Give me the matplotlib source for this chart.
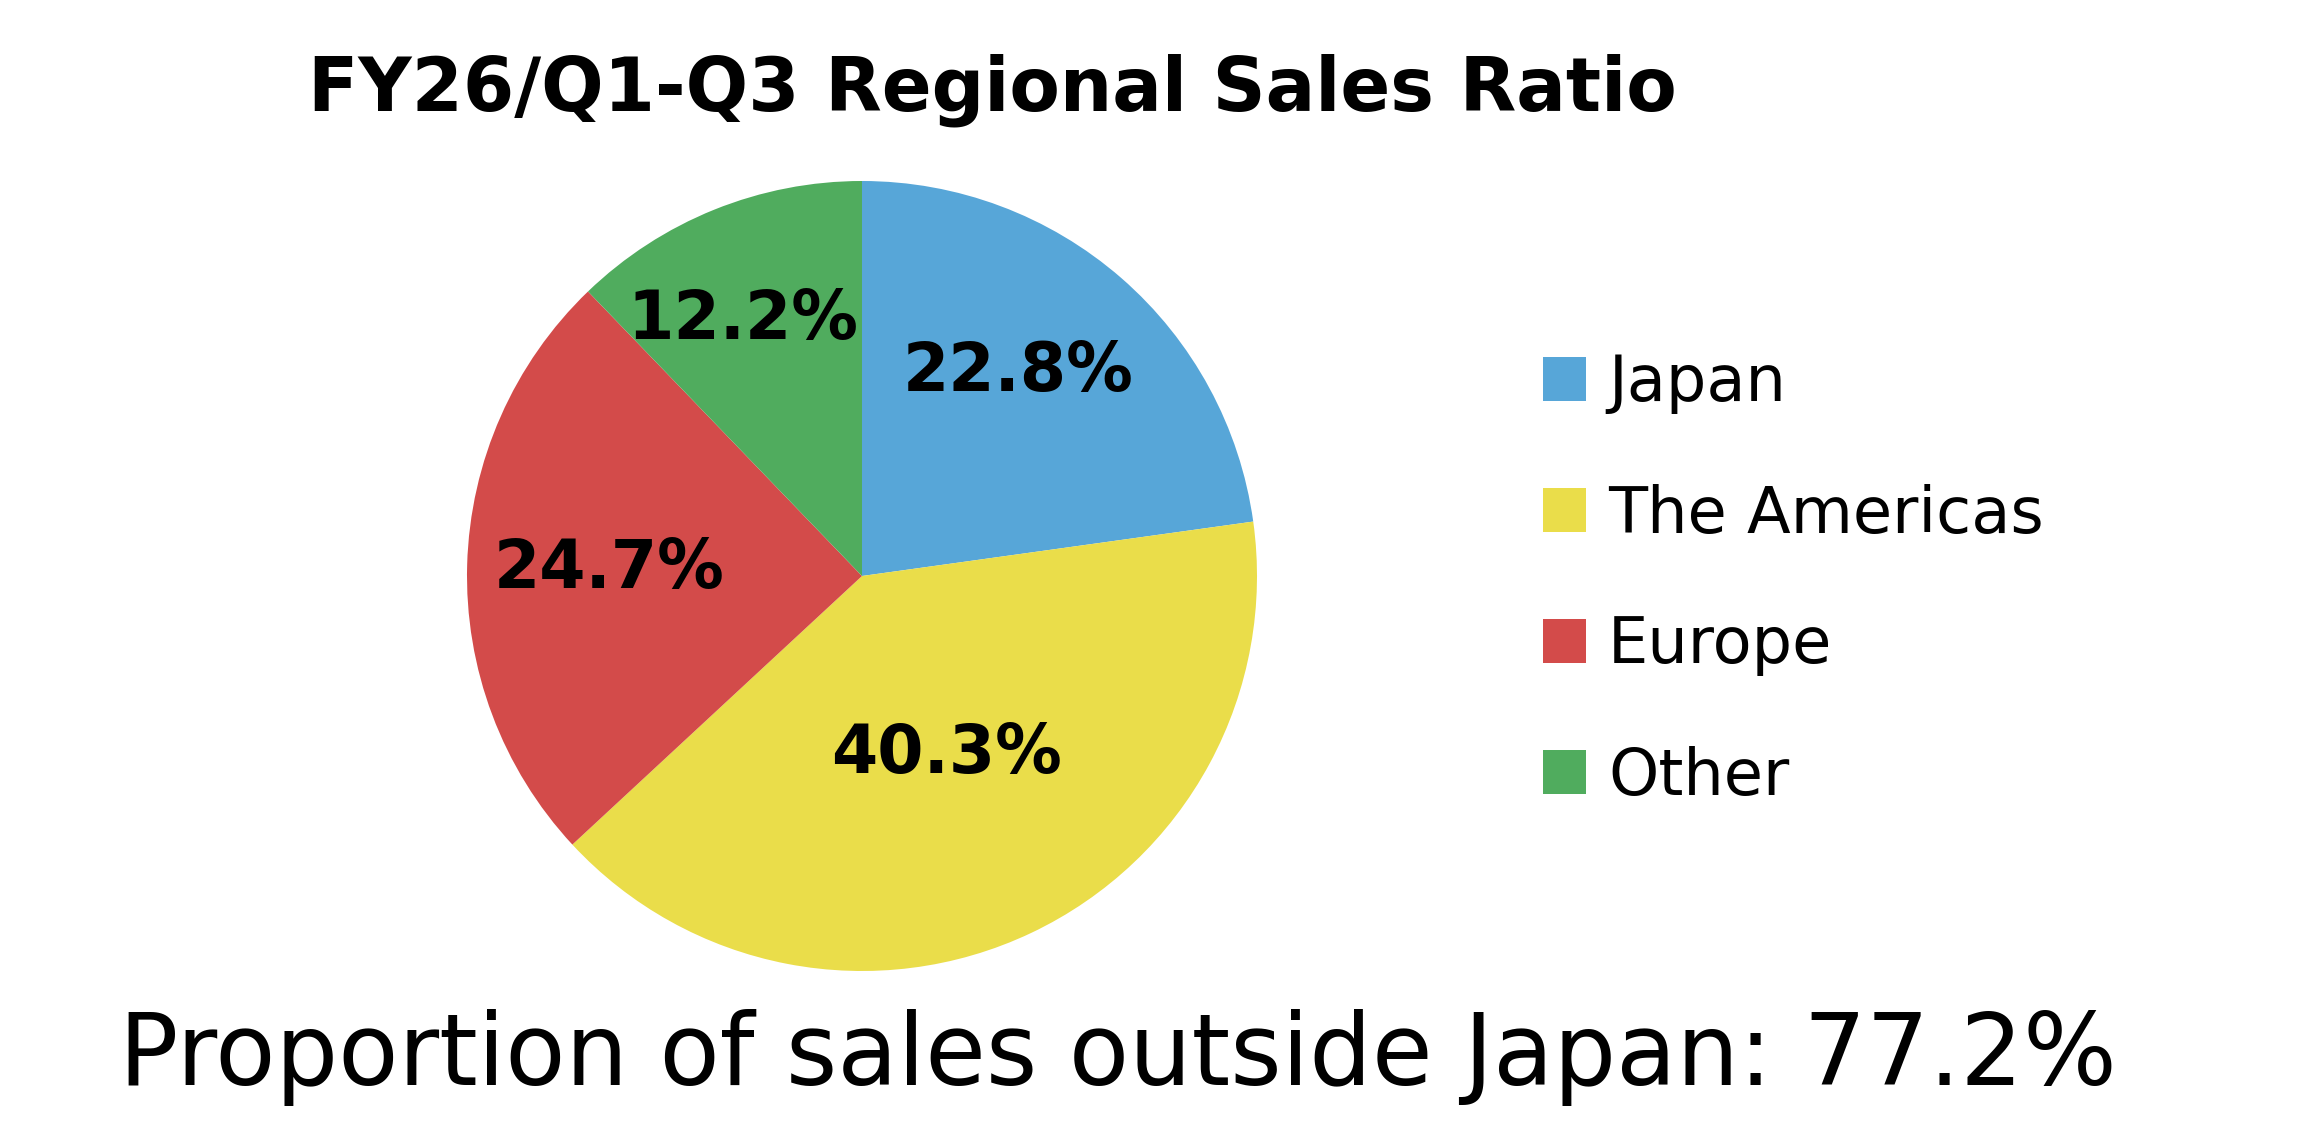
import numpy as np
import matplotlib
matplotlib.use("Agg")
import matplotlib.pyplot as plt
from matplotlib.patches import Patch

categories = ["Japan", "The Americas", "Europe", "Other"]
shares = [22.8, 40.3, 24.7, 12.2]
pct_labels = ["22.8%", "40.3%", "24.7%", "12.2%"]
colors = ["#57A6D8", "#EADD4A", "#D34B4A", "#50AC5E"]
label_radius = [0.65, 0.50, 0.64, 0.716]
label_angle_shift = [3.5, 0.0, 0.0, 3.0]
title = "FY26/Q1-Q3 Regional Sales Ratio"
footer = "Proportion of sales outside Japan: 77.2%"

plt.rcParams['font.family'] = ['DejaVu Sans']
fig = plt.figure(figsize=(23.14, 11.48), dpi=100)
ax = fig.add_axes([467/2314, 1 - 971/1148, 790/2314, 790/1148])
wedges, _ = ax.pie(shares, colors=colors, startangle=90, counterclock=False,
                   radius=1.0, wedgeprops=dict(linewidth=0))
ax.set_xlim(-1, 1)
ax.set_ylim(-1, 1)
ax.set_aspect('equal')
ax.axis('off')

for w, lab, r, da in zip(wedges, pct_labels, label_radius, label_angle_shift):
    th = np.deg2rad((w.theta1 + w.theta2) / 2 + da)
    ax.text(r * np.cos(th), r * np.sin(th), lab, ha='center', va='center',
            fontsize=48, fontweight='bold', color='black')

fig.text(992/2314, 1 - 90/1148, title, ha='center', va='center',
         fontsize=53, fontweight='bold')
fig.text(1118/2314, 1 - 1057/1148, footer, ha='center', va='center',
         fontsize=71)

handles = [Patch(facecolor=c, edgecolor='none') for c in colors]
leg = fig.legend(handles, categories, loc='center left',
                 bbox_to_anchor=(1511/2314, 1 - 580/1148), frameon=False,
                 fontsize=46, handlelength=0.67, handleheight=0.67,
                 labelspacing=1.08, handletextpad=0.35, borderpad=0)

fig.savefig("out.png", dpi=100, facecolor='white')
